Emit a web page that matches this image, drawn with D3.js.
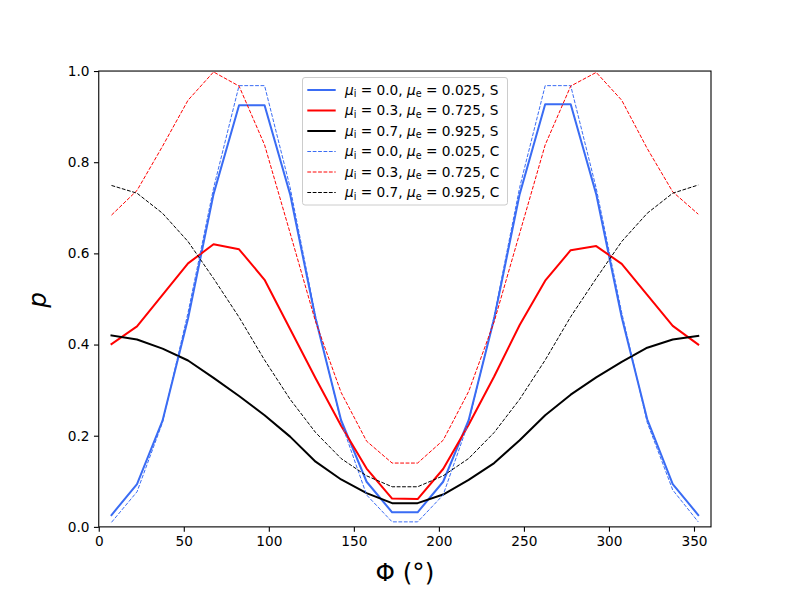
<!DOCTYPE html>
<html><head><meta charset="utf-8">
<script src="https://cdn.jsdelivr.net/npm/d3@7"></script>
<style>body{margin:0;background:#fff}svg{display:block}text{font-family:"DejaVu Sans",sans-serif}</style>
</head><body>
<svg id="c" width="790" height="592"></svg>
<script>
const phi = [7.5,22.5,37.5,52.5,67.5,82.5,97.5,112.5,127.5,142.5,157.5,172.5,187.5,202.5,217.5,232.5,247.5,262.5,277.5,292.5,307.5,322.5,337.5,352.5];
const blueS  = [0.026,0.094,0.233,0.457,0.730,0.925,0.925,0.730,0.457,0.234,0.099,0.032,0.032,0.099,0.234,0.457,0.730,0.927,0.927,0.730,0.460,0.236,0.094,0.026];
const redS   = [0.401,0.440,0.509,0.578,0.620,0.609,0.542,0.434,0.326,0.222,0.128,0.062,0.061,0.127,0.224,0.330,0.443,0.540,0.607,0.616,0.577,0.509,0.441,0.400];
const blackS = [0.420,0.411,0.391,0.365,0.327,0.287,0.245,0.198,0.143,0.104,0.074,0.052,0.052,0.071,0.103,0.140,0.190,0.245,0.290,0.328,0.362,0.393,0.411,0.419];
const blueC  = [0.010,0.077,0.229,0.470,0.743,0.968,0.968,0.745,0.462,0.230,0.070,0.011,0.011,0.070,0.230,0.462,0.745,0.968,0.968,0.743,0.470,0.229,0.081,0.011];
const redC   = [0.684,0.738,0.835,0.936,0.998,0.967,0.838,0.645,0.450,0.295,0.188,0.140,0.140,0.190,0.297,0.450,0.644,0.838,0.967,0.997,0.936,0.830,0.735,0.686];
const blackC = [0.749,0.732,0.688,0.626,0.545,0.460,0.366,0.280,0.207,0.150,0.112,0.088,0.088,0.112,0.150,0.207,0.280,0.366,0.461,0.545,0.626,0.688,0.732,0.750];
const xTicks = [0,50,100,150,200,250,300,350];
const yTicks = [0.0,0.2,0.4,0.6,0.8,1.0];
const labels = [
  {mi:"0.0", me:"0.025", t:"S"},{mi:"0.3", me:"0.725", t:"S"},{mi:"0.7", me:"0.925", t:"S"},
  {mi:"0.0", me:"0.025", t:"C"},{mi:"0.3", me:"0.725", t:"C"},{mi:"0.7", me:"0.925", t:"C"}
];
const seriesVals = [blueS, redS, blackS, blueC, redC, blackC];
const colors = ["#3a6cf4","#ff0000","#000000","#3a6cf4","#ff0000","#000000"];
const dashed = [false,false,false,true,true,true];

const svg = d3.select("#c");
const L = 98.75, R = 711, T = 71.04, B = 526.88;
const x = d3.scaleLinear().domain([0,360]).range([L,R]);
const y = d3.scaleLinear().domain([0,1]).range([B,T]);

const line = d3.line().x(d=>x(d[0])).y(d=>y(d[1]));
const g = svg.append("g");
seriesVals.forEach((vals,i)=>{
  g.append("path").datum(phi.map((p,j)=>[p,vals[j]]))
   .attr("d", line).attr("fill","none").attr("stroke", colors[i])
   .attr("stroke-width", dashed[i]?1:2)
   .attr("stroke-dasharray", dashed[i]?"3.8,1.6":null)
   .attr("stroke-linejoin","round").attr("stroke-linecap", dashed[i]?"butt":"square");
});

// axes
const xa = svg.append("g").attr("transform",`translate(0,${B})`)
  .call(d3.axisBottom(x).tickValues(xTicks).tickSize(4.8).tickPadding(4.5).tickFormat(d3.format("d")));
const ya = svg.append("g").attr("transform",`translate(${L},0)`)
  .call(d3.axisLeft(y).tickValues(yTicks).tickSize(4.8).tickPadding(4.5).tickFormat(d3.format(".1f")));
[xa,ya].forEach(a=>{
  a.select(".domain").remove();
  a.selectAll(".tick line").attr("stroke","#000").attr("stroke-width",1.1);
  a.selectAll(".tick text").attr("font-size","13.7px").attr("fill","#000").attr("font-family","DejaVu Sans");
});
svg.append("rect").attr("x",L).attr("y",T).attr("width",R-L).attr("height",B-T)
  .attr("fill","none").attr("stroke","#000").attr("stroke-width",1.1);

// labels
svg.append("text").attr("x",(L+R)/2).attr("y",581).attr("text-anchor","middle")
  .attr("font-size","24.7px").text("Φ (°)");
svg.append("text").attr("transform","translate(46,300) rotate(-90)").attr("text-anchor","middle")
  .attr("font-size","24.7px").attr("font-style","italic").text("p");

// legend
const lg = svg.append("g");
lg.append("rect").attr("x",302.5).attr("y",77.5).attr("width",205).attr("height",127.5)
  .attr("rx",2.5).attr("fill","#fff").attr("fill-opacity",0.8).attr("stroke","#cccccc").attr("stroke-width",1);
labels.forEach((lb,i)=>{
  const cy = 90 + i*20.5;
  lg.append("line").attr("x1",307.3).attr("x2",335.7).attr("y1",cy).attr("y2",cy)
    .attr("stroke",colors[i]).attr("stroke-width",dashed[i]?1:2)
    .attr("stroke-dasharray",dashed[i]?"3.8,1.6":null);
  const t = lg.append("text").attr("x",345).attr("y",cy+4.8).attr("font-size","13.7px");
  t.append("tspan").attr("font-style","italic").text("μ");
  t.append("tspan").attr("font-size","9.6px").attr("dy",2.6).text("i");
  t.append("tspan").attr("dy",-2.6).text(` = ${lb.mi}, `);
  t.append("tspan").attr("font-style","italic").text("μ");
  t.append("tspan").attr("font-size","9.6px").attr("dy",2.6).text("e");
  t.append("tspan").attr("dy",-2.6).text(` = ${lb.me}, ${lb.t}`);
});
</script>
</body></html>
